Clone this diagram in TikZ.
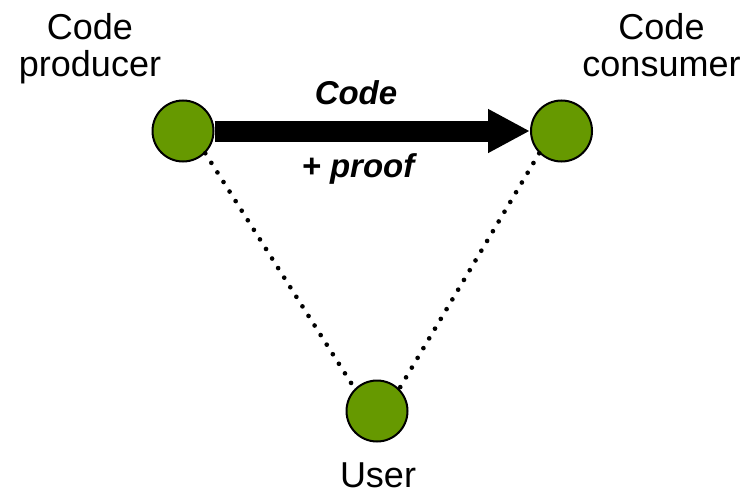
\documentclass[tikz,border=0pt]{standalone}
\usepackage{fontspec}
\setmainfont{Liberation Sans}
\usetikzlibrary{arrows.meta}
\definecolor{leaf}{RGB}{102,153,0}
\begin{document}
\begin{tikzpicture}[x=0.75pt,y=-0.75pt,
  party/.style={circle,draw=black,line width=1.5pt,fill=leaf,minimum size=45.75pt,inner sep=0pt},
  tag/.style={font=\fontsize{27}{27.75}\selectfont,align=center,inner sep=0pt},
  flowtag/.style={font=\fontsize{24.75}{27}\selectfont\bfseries\itshape,inner sep=0pt},
  trust/.style={line width=3.5pt,dash pattern=on 0pt off 8.5pt,line cap=round},
  flow/.style={line width=15.75pt,-{Triangle[length=31.5pt,width=30.75pt]}}]
\useasboundingbox (0,0) rectangle (748,492);

% the three parties
\node[party] (prod) at (183,131) {};
\node[party] (cons) at (561.5,131) {};
\node[party] (user) at (377,411) {};

% their names (base anchor sits on the last line)
\node[tag,anchor=base] (prodname) at (90,76) {Code\\producer};
\node[tag,anchor=base] (consname) at (661.5,76) {Code\\consumer};
\node[tag,anchor=base] (username) at (378,487) {User};

% code and proof travel from producer to consumer
\draw[flow] (prod.east) -- (cons.west);
\node[flowtag,anchor=base] (codelbl) at (356,104) {Code};
\node[flowtag,anchor=base] (prooflbl) at (358,177) {+ proof};

% trust relations with the user
\draw[trust] (prod.-45) -- (user.135);
\draw[trust] (cons.-135) -- (user.45);
\end{tikzpicture}
\end{document}
